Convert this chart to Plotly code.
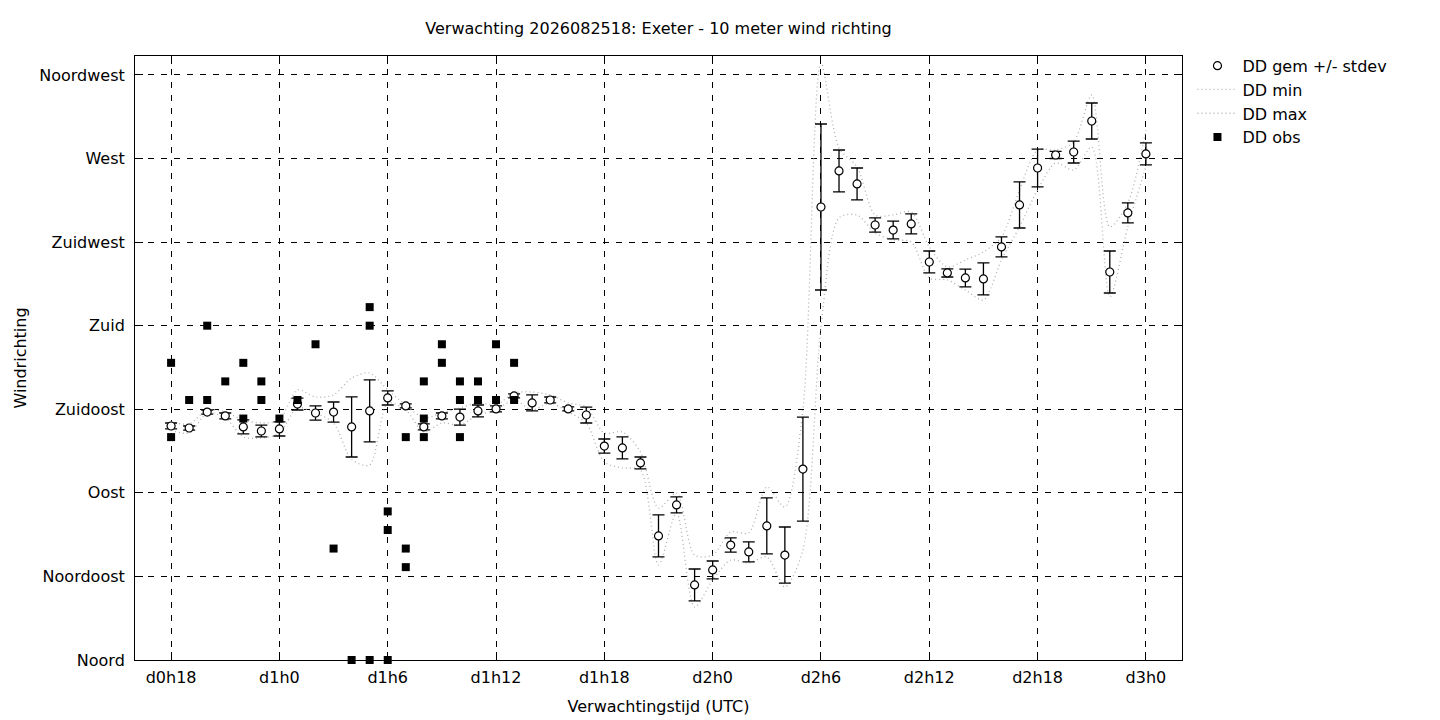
"""Ensemble forecast of 10 m wind direction for Exeter, gnuplot-style, rebuilt in Plotly."""

import plotly.graph_objects as go

# forecast hours since the run (d0h18 = 18, d3h0 = 72)
LEAD_HOURS = list(range(18, 73))

DD_MEAN = [
    126.0, 124.9, 133.5, 131.4, 125.5, 123.3, 124.4, 137.8, 133.0, 133.5,
    125.5, 134.1, 141.1, 136.8, 125.5, 131.4, 130.8, 134.1, 135.2, 142.2,
    138.4, 140.0, 135.2, 131.9, 115.2, 114.2, 106.1, 66.8, 83.5, 40.4,
    48.5, 61.9, 58.2, 72.2, 56.5, 102.8, 243.9, 263.3, 256.3, 234.2,
    231.5, 234.8, 214.3, 208.4, 205.7, 205.2, 222.4, 245.0, 264.9, 271.9,
    273.5, 290.2, 208.9, 240.7, 272.5,
]
DD_STDEV = [
    1.6, 1.1, 1.1, 1.6, 3.8, 3.2, 3.8, 3.2, 3.8, 5.4,
    16.2, 16.7, 3.8, 1.1, 1.6, 1.6, 4.3, 3.2, 1.6, 1.1,
    4.3, 1.6, 1.1, 4.3, 3.8, 5.9, 3.2, 11.3, 4.3, 8.6,
    4.8, 3.8, 5.4, 15.1, 15.1, 28.0, 44.7, 11.3, 8.6, 3.8,
    4.8, 5.4, 5.9, 2.2, 4.8, 8.6, 5.4, 12.4, 10.2, 1.9,
    5.9, 9.7, 11.3, 5.4, 5.9,
]
DD_MIN = [
    123.8, 122.2, 133.0, 130.3, 120.1, 119.5, 122.2, 135.7, 133.0, 127.6,
    108.0, 105.0, 138.4, 134.6, 122.8, 127.6, 126.5, 131.9, 134.6, 140.0,
    134.6, 138.4, 133.5, 127.6, 106.6, 103.4, 102.3, 51.2, 79.2, 28.5,
    43.1, 53.8, 52.2, 55.5, 39.3, 59.2, 179.3, 238.0, 239.6, 229.9,
    226.2, 225.1, 205.7, 204.6, 199.2, 193.8, 215.4, 233.2, 253.1, 267.6,
    263.8, 276.2, 195.5, 233.2, 265.5,
]
DD_MAX = [
    128.2, 127.1, 134.6, 133.5, 129.2, 127.6, 129.2, 145.4, 141.6, 142.7,
    151.8, 154.5, 145.4, 137.3, 130.3, 133.0, 135.7, 138.4, 137.3, 143.8,
    144.3, 142.7, 138.4, 136.2, 122.2, 122.8, 112.0, 81.8, 89.9, 56.5,
    56.5, 68.9, 68.4, 93.2, 82.4, 134.6, 321.5, 275.7, 265.5, 239.6,
    239.6, 241.2, 222.4, 211.6, 215.4, 219.7, 227.8, 253.1, 274.6, 274.6,
    278.9, 304.2, 233.2, 246.1, 285.4,
]

# observations (several reports can fall on the same hour)
OBS_HOURS = [
    18, 18, 19, 20, 20, 21, 22, 22, 23, 23, 24, 25, 26, 27, 28,
    29, 29, 29, 30, 30, 30, 31, 31, 31, 32, 32, 32, 33, 33,
    34, 34, 34, 35, 35, 36, 36, 37, 37,
]
OBS_DD = [
    160, 120, 140, 180, 140, 150, 160, 130, 150, 140, 130, 140, 170, 60, 0,
    190, 180, 0, 80, 70, 0, 120, 60, 50, 150, 130, 120, 170, 160,
    150, 140, 120, 150, 140, 170, 140, 160, 140,
]

X_TICKS = [18, 24, 30, 36, 42, 48, 54, 60, 66, 72]
X_LABELS = ["d0h18", "d1h0", "d1h6", "d1h12", "d1h18", "d2h0", "d2h6", "d2h12", "d2h18", "d3h0"]
Y_TICKS = [0, 45, 90, 135, 180, 225, 270, 315]
Y_LABELS = ["Noord", "Noordoost", "Oost", "Zuidoost", "Zuid", "Zuidwest", "West", "Noordwest"]

FONT = "DejaVu Sans, sans-serif"
FONT_SIZE = 16
ENVELOPE_GREY = "#b0b0b0"


def build_figure() -> go.Figure:
    fig = go.Figure()

    for name, values in (("DD min", DD_MIN), ("DD max", DD_MAX)):
        fig.add_trace(
            go.Scatter(
                x=LEAD_HOURS,
                y=values,
                mode="lines",
                name=name,
                line=dict(color=ENVELOPE_GREY, width=1.3, dash="1px,3px", shape="spline", smoothing=0.8),
            )
        )
    fig.add_trace(
        go.Scatter(
            x=LEAD_HOURS,
            y=DD_MEAN,
            mode="markers",
            name="DD gem +/- stdev",
            marker=dict(symbol="circle", size=8, color="white", line=dict(color="black", width=1.2)),
            error_y=dict(type="data", array=DD_STDEV, visible=True, color="black", thickness=1.3, width=6),
        )
    )
    fig.add_trace(
        go.Scatter(
            x=OBS_HOURS,
            y=OBS_DD,
            mode="markers",
            name="DD obs",
            cliponaxis=False,
            marker=dict(symbol="square", size=8, color="black"),
        )
    )
    # legend in gnuplot order, drawing order keeps the circles above the envelope
    for rank, trace in zip((2, 3, 1, 4), fig.data):
        trace.legendrank = rank

    axis_common = dict(
        showline=True,
        linecolor="black",
        linewidth=1,
        mirror="ticks",
        ticks="inside",
        ticklen=8,
        tickcolor="black",
        showgrid=True,
        gridcolor="black",
        gridwidth=1,
        griddash="6px,7px",
        zeroline=False,
        tickfont=dict(family=FONT, size=FONT_SIZE, color="black"),
    )

    fig.update_xaxes(
        range=[16, 74],
        tickvals=X_TICKS,
        ticktext=X_LABELS,
        ticklabelstandoff=3,
        title=dict(text="Verwachtingstijd (UTC)", font=dict(family=FONT, size=FONT_SIZE, color="black"), standoff=14),
        **axis_common,
    )
    fig.update_yaxes(
        range=[0, 325.2],
        tickvals=Y_TICKS,
        ticktext=Y_LABELS,
        ticklabelstandoff=6,
        title=dict(text="Windrichting", font=dict(family=FONT, size=FONT_SIZE, color="black"), standoff=8),
        **axis_common,
    )

    fig.update_layout(
        width=1440,
        height=720,
        # page body adds 8px on the left/top, so the plot box lands at 135..1182 x 56..660
        margin=dict(l=127, r=266, t=48, b=68),
        paper_bgcolor="white",
        plot_bgcolor="white",
        font=dict(family=FONT, size=FONT_SIZE, color="black"),
        title=dict(
            text="Verwachting 2026082518: Exeter - 10 meter wind richting",
            x=0.5,
            xref="paper",
            xanchor="center",
            y=0.971,
            yref="container",
            yanchor="middle",
            font=dict(family=FONT, size=FONT_SIZE, color="black"),
        ),
        legend=dict(
            x=1.01,
            y=1.012,
            xanchor="left",
            yanchor="top",
            bgcolor="rgba(0,0,0,0)",
            font=dict(family=FONT, size=FONT_SIZE, color="black"),
            tracegroupgap=0,
            itemwidth=40,
        ),
        showlegend=True,
    )
    return fig


def main() -> None:
    fig = build_figure()
    fig.write_html("out.html")


if __name__ == "__main__":
    main()
